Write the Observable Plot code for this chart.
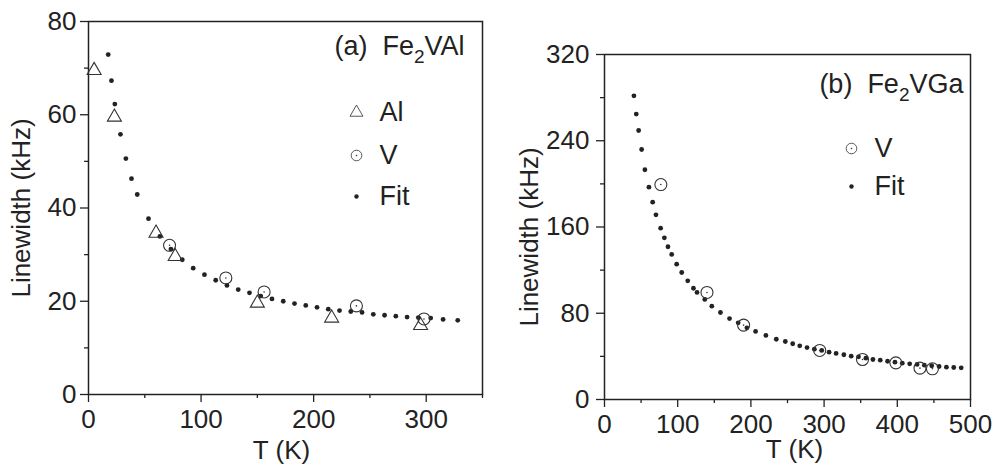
<!DOCTYPE html>
<html><head><meta charset="utf-8">
<script src="https://cdn.jsdelivr.net/npm/d3@7"></script>
<script src="https://cdn.jsdelivr.net/npm/@observablehq/plot@0.6"></script>
<style>
body{margin:0;background:#fff;}
#wrap{position:relative;width:993px;height:465px;overflow:hidden;}
#wrap svg{position:absolute;top:0;}
</style></head><body><div id="wrap"></div>
<script>
// ---------- Panel (a) Fe2VAl ----------
const aAlT = [5, 23, 60, 77, 150, 216, 295];
const aAlW = [69.5, 59.5, 34.6, 29.6, 19.6, 16.4, 14.8];
const aVT  = [72, 122, 156, 238, 298];
const aVW  = [32, 25, 22, 19, 16.2];
const aFitT = [17.5, 20.4, 23.4, 28.4, 33.2, 38.2, 43.3, 53.3, 63.4, 73.2, 83.3, 93, 103, 113, 123, 133, 143, 153, 163, 173, 183, 193, 203, 213, 223, 233, 243, 253, 263, 273, 283, 293, 304, 315, 328];
const aFitW = [72.9, 67.3, 62.3, 55.8, 50.6, 46.3, 42.9, 37.7, 33.9, 31.2, 28.9, 27.1, 25.7, 24.5, 23.4, 22.5, 21.8, 21.1, 20.5, 20.0, 19.5, 19.1, 18.7, 18.3, 18.0, 17.8, 17.6, 17.2, 17.0, 16.8, 16.6, 16.5, 16.4, 16.1, 15.9];
const aXTicks = [0, 100, 200, 300];
const aXMinor = [50, 150, 250, 350];
const aYTicks = [0, 20, 40, 60, 80];
const aYMinor = [10, 30, 50, 70];

// ---------- Panel (b) Fe2VGa ----------
const bVT = [77, 140, 190, 294, 352.5, 398, 431, 448];
const bVW = [199.4, 99.3, 69, 45.5, 37.1, 34, 29.1, 28.5];
const bFitT = [40.2, 43.4, 46.6, 50.7, 55.2, 60.7, 65.8, 70.3, 76.7, 81.8, 86.7, 91.8, 98.6, 105.5, 113.7, 121.5, 126.4, 137, 146.6, 158.4, 170.8, 182.6, 194.5, 206.4, 220.5, 234.7, 247, 257.1, 266.7, 276.7, 286.7, 296.8, 306.8, 316.4, 327, 337, 347, 357.1, 366.7, 376.7, 386.7, 396.8, 406.8, 416.9, 427, 437, 447, 457.1, 467.1, 477.1, 487.3];
const bFitW = [281.7, 264.7, 249.5, 231.9, 213.1, 196.9, 183.0, 171.3, 158.9, 150.0, 141.7, 134.6, 125.5, 117.8, 110.1, 103.2, 99.3, 92.8, 86.6, 80.7, 75.1, 71.1, 66.5, 63.1, 59.4, 55.9, 53.8, 51.7, 49.8, 48.2, 46.7, 45.5, 43.9, 42.7, 41.5, 40.2, 39.6, 38.3, 37.1, 36.5, 35.5, 34.6, 33.7, 33.1, 32.5, 31.8, 31.3, 30.6, 30.0, 29.7, 29.4];
const bXTicks = [0, 100, 200, 300, 400, 500];
const bXMinor = [50, 150, 250, 350, 450];
const bYTicks = [0, 80, 160, 240, 320];
const bYMinor = [40, 120, 200, 280];

const xLabel = "T (K)";
const yLabel = "Linewidth (kHz)";

const INK = "#222";
const FONT = "'Liberation Sans', Arial, Helvetica, sans-serif";
const FS = 26;
const pts = (T, W) => T.map((t, i) => ({T: t, W: W[i]}));

function panel(o) {
  const marks = [
    Plot.frame({stroke: INK, strokeWidth: 1.5}),
    Plot.axisX({ticks: o.xTicks, tickSize: 8, tickPadding: 7, label: null, strokeWidth: 1.3, fontSize: FS}),
    Plot.axisX({ticks: o.xMinor, tickSize: 4, tickFormat: () => "", label: null, strokeWidth: 1.3}),
    Plot.axisY({ticks: o.yTicks, tickSize: 8, tickPadding: o.yPad, label: null, strokeWidth: 1.3, fontSize: FS}),
    Plot.axisY({ticks: o.yMinor, tickSize: 4, tickFormat: () => "", label: null, strokeWidth: 1.3}),
    Plot.text([xLabel], {frameAnchor: "bottom", dx: o.xlDx, dy: o.xlDy, lineAnchor: "middle", textAnchor: "middle", fill: INK, fontSize: FS}),
    Plot.text([yLabel], {frameAnchor: "left", dx: o.ylDx, dy: o.ylDy, rotate: -90, lineAnchor: "middle", textAnchor: "middle", fill: INK, fontSize: FS}),
    Plot.dot(pts(o.fitT, o.fitW), {x: "T", y: "W", r: 2.4, fill: INK, stroke: "none"}),
    Plot.text([o.header], {frameAnchor: "top-right", dx: o.hdDx, dy: o.hdDy, textAnchor: "end", lineAnchor: "middle", fill: INK, fontSize: 27})
  ];
  if (o.alT) {
    marks.push(Plot.dot(pts(o.alT, o.alW), {x: "T", y: "W", r: 5.2, symbol: "triangle", fill: "none", stroke: "#333", strokeWidth: 1.1}));
  }
  marks.push(
    Plot.dot(pts(o.vT, o.vW), {x: "T", y: "W", r: 6, fill: "none", stroke: "#333", strokeWidth: 1.1}),
    Plot.dot(pts(o.vT, o.vW), {x: "T", y: "W", r: 0.8, fill: "#333", stroke: "none"})
  );
  // legend
  o.legend.forEach((e, i) => {
    const dy = o.legDy[i];
    if (e === "Al") marks.push(Plot.dot([0], {frameAnchor: "top-right", dx: o.symDx, dy, r: 4.8, symbol: "triangle", fill: "none", stroke: "#444", strokeWidth: 0.9}));
    if (e === "V") {
      marks.push(Plot.dot([0], {frameAnchor: "top-right", dx: o.symDx, dy, r: 5.3, fill: "none", stroke: "#444", strokeWidth: 0.9}));
      marks.push(Plot.dot([0], {frameAnchor: "top-right", dx: o.symDx, dy, r: 0.8, fill: "#333"}));
    }
    if (e === "Fit") marks.push(Plot.dot([0], {frameAnchor: "top-right", dx: o.symDx, dy, r: 2.2, fill: INK}));
    marks.push(Plot.text([e], {frameAnchor: "top-right", dx: o.txtDx, dy, textAnchor: "start", lineAnchor: "middle", fill: INK, fontSize: 27}));
  });
  const svg = Plot.plot({
    width: o.w, height: 465,
    marginLeft: o.ml, marginRight: o.mr, marginTop: o.mt, marginBottom: o.mb,
    x: {domain: o.xDom}, y: {domain: o.yDom},
    style: {fontFamily: FONT, fontSize: FS + "px", color: INK, background: "transparent", overflow: "visible"},
    marks
  });
  svg.style.left = o.left + "px";
  // subscript in header
  d3.select(svg).selectAll("text").filter(function () { return this.textContent === o.header; }).each(function () {
    const t = d3.select(this);
    const parts = o.header.split("2");
    t.text(null).style("white-space", "pre");
    t.append("tspan").text(parts[0]);
    t.append("tspan").attr("dy", "8").attr("font-size", "19px").text("2");
    t.append("tspan").attr("dy", "-8").text(parts[1]);
  });
  return svg;
}

const wrap = document.getElementById("wrap");
wrap.appendChild(panel({
  left: 0, w: 500, ml: 88, mr: 18, mt: 21, mb: 71,
  xDom: [0, 350], yDom: [0, 80],
  xTicks: aXTicks, xMinor: aXMinor, yTicks: aYTicks, yMinor: aYMinor, yPad: 4,
  fitT: aFitT, fitW: aFitW, alT: aAlT, alW: aAlW, vT: aVT, vW: aVW,
  header: "(a)  Fe2VAl", hdDx: -18, hdDy: 25,
  legend: ["Al", "V", "Fit"], legDy: [91, 134, 175], symDx: -126, txtDx: -103,
  xlDx: -4, xlDy: 56, ylDx: -67, ylDy: 0
}));
wrap.appendChild(panel({
  left: 500, w: 493, ml: 104, mr: 23, mt: 54, mb: 66,
  xDom: [0, 500], yDom: [0, 320],
  xTicks: bXTicks, xMinor: bXMinor, yTicks: bYTicks, yMinor: bYMinor, yPad: 7,
  fitT: bFitT, fitW: bFitW, vT: bVT, vW: bVW,
  header: "(b)  Fe2VGa", hdDx: -7, hdDy: 30,
  legend: ["V", "Fit"], legDy: [94, 132], symDx: -119, txtDx: -96,
  xlDx: 7, xlDy: 50, ylDx: -75, ylDy: 10
}));
</script>
</body></html>
